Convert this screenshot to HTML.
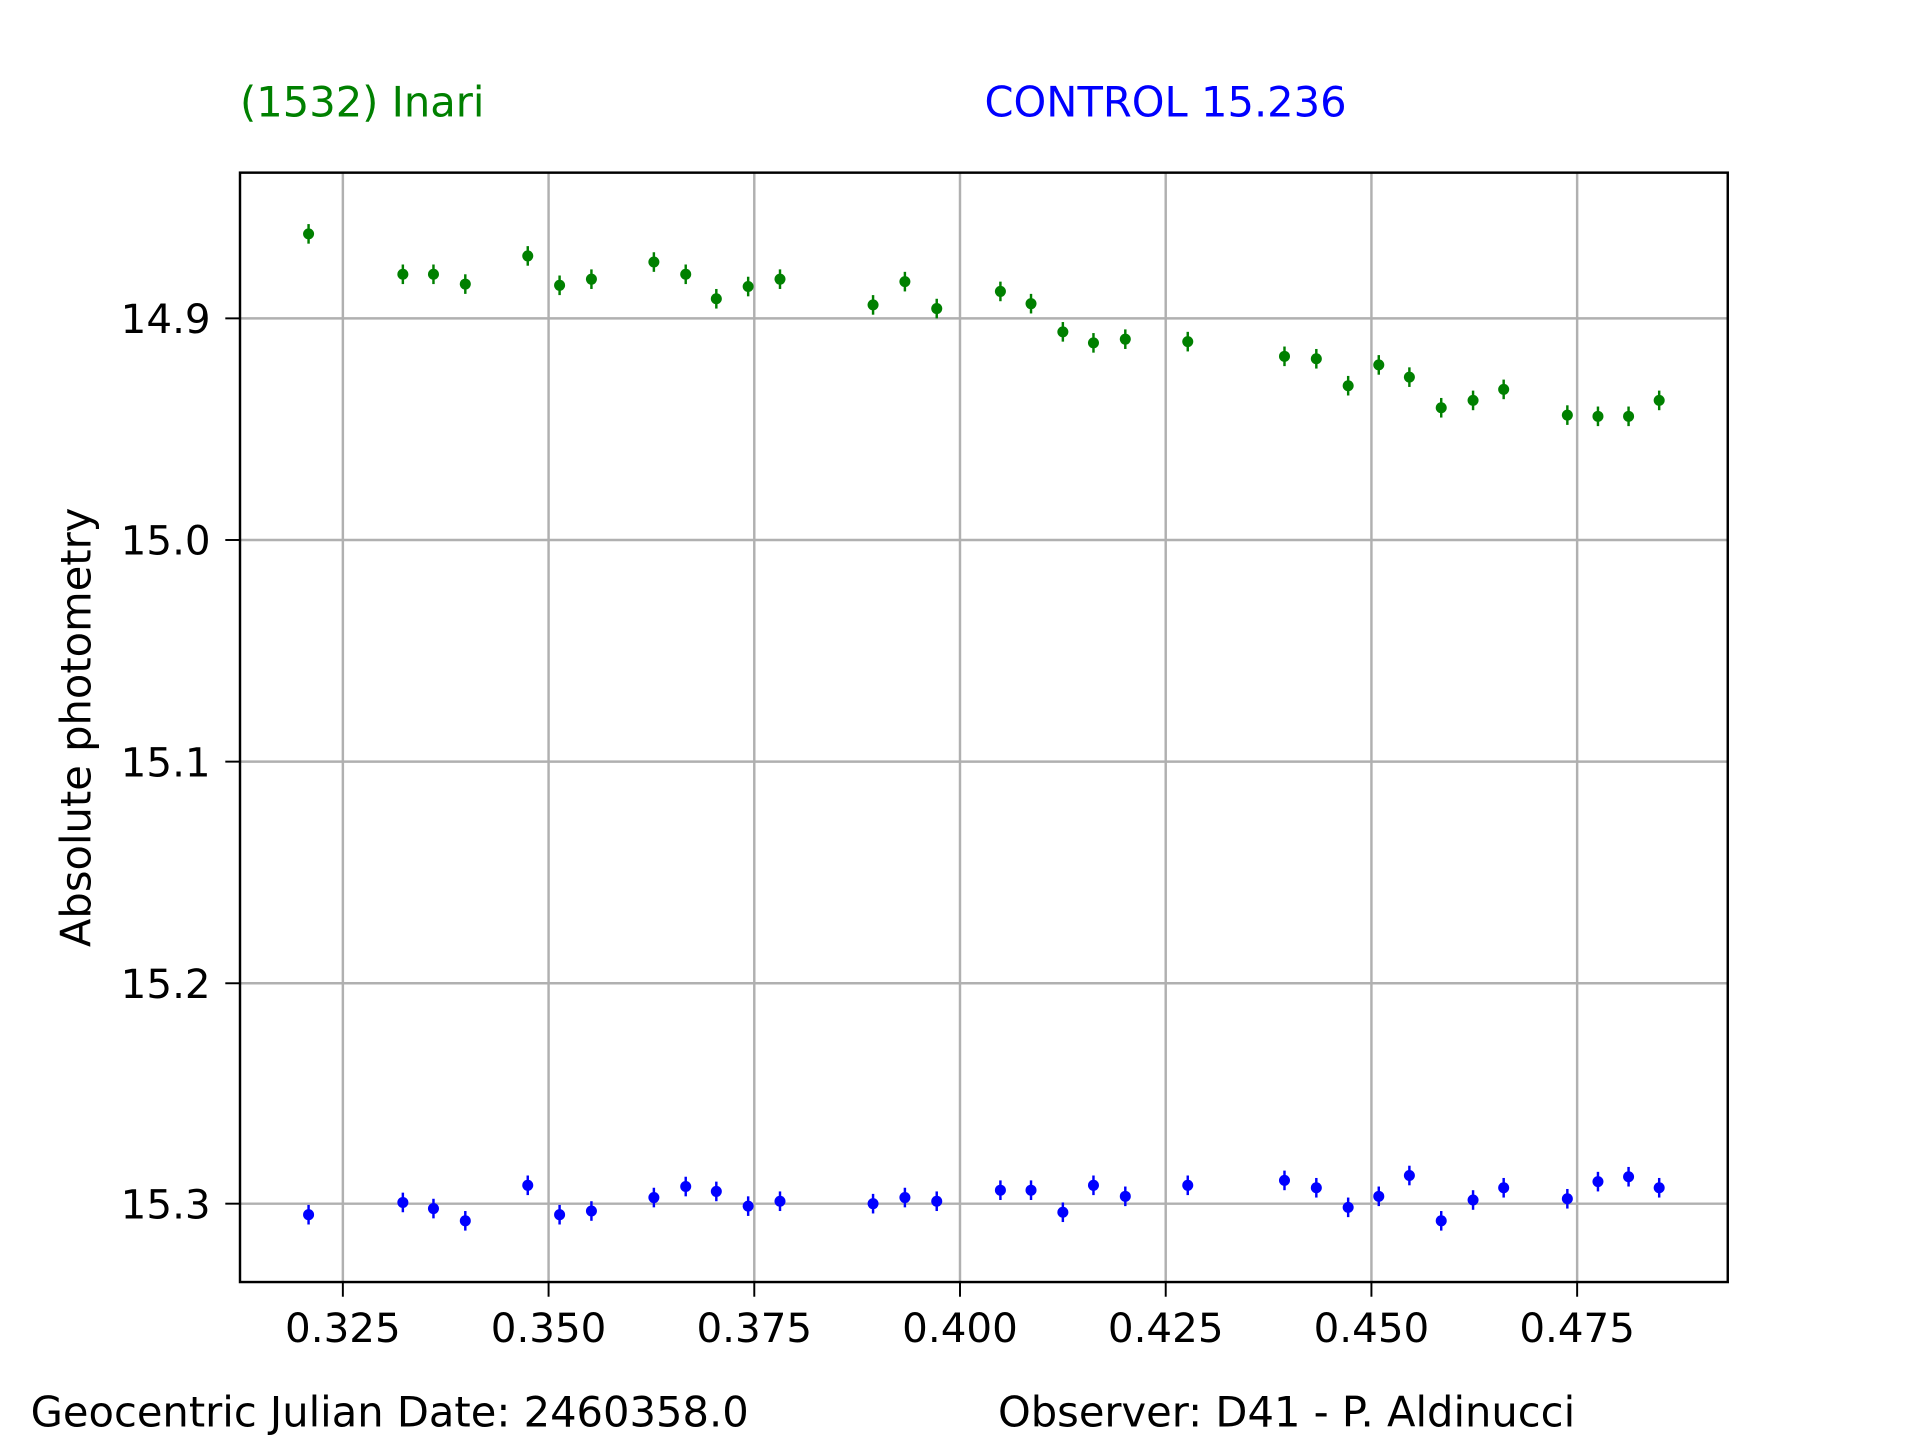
<!DOCTYPE html>
<html><head><meta charset="utf-8"><style>html,body{margin:0;padding:0;background:#fff}</style></head>
<body>
<svg width="1920" height="1440" viewBox="0 0 1568 1176" xmlns="http://www.w3.org/2000/svg" font-family="DejaVu Sans, Liberation Sans, sans-serif">
<defs>
<g id="gm"><line x1="0" y1="-8" x2="0" y2="8" stroke="#008000" stroke-width="2"/><circle r="4.5" fill="#008000"/></g>
<g id="bm"><line x1="0" y1="-8" x2="0" y2="8" stroke="#0000ff" stroke-width="2"/><circle r="4.5" fill="#0000ff"/></g>
</defs>
<rect width="1568" height="1176" fill="#fff"/>
<g stroke="#b0b0b0" stroke-width="2">
<line x1="280" y1="141" x2="280" y2="1047"/><line x1="448" y1="141" x2="448" y2="1047"/>
<line x1="616" y1="141" x2="616" y2="1047"/><line x1="784" y1="141" x2="784" y2="1047"/>
<line x1="952" y1="141" x2="952" y2="1047"/><line x1="1120" y1="141" x2="1120" y2="1047"/>
<line x1="1288" y1="141" x2="1288" y2="1047"/>
<line x1="196" y1="260" x2="1411" y2="260"/><line x1="196" y1="441" x2="1411" y2="441"/>
<line x1="196" y1="622" x2="1411" y2="622"/><line x1="196" y1="803" x2="1411" y2="803"/>
<line x1="196" y1="983" x2="1411" y2="983"/>
</g>
<g stroke="#000" stroke-width="1.6">
<line x1="280" y1="1047" x2="280" y2="1059"/><line x1="448" y1="1047" x2="448" y2="1059"/>
<line x1="616" y1="1047" x2="616" y2="1059"/><line x1="784" y1="1047" x2="784" y2="1059"/>
<line x1="952" y1="1047" x2="952" y2="1059"/><line x1="1120" y1="1047" x2="1120" y2="1059"/>
<line x1="1288" y1="1047" x2="1288" y2="1059"/>
<line x1="184" y1="260" x2="196" y2="260"/><line x1="184" y1="441" x2="196" y2="441"/>
<line x1="184" y1="622" x2="196" y2="622"/><line x1="184" y1="803" x2="196" y2="803"/>
<line x1="184" y1="983" x2="196" y2="983"/>
</g>
<g font-size="33" text-anchor="middle" fill="#000">
<text x="280" y="1096">0.325</text><text x="448" y="1096">0.350</text><text x="616" y="1096">0.375</text>
<text x="784" y="1096">0.400</text><text x="952" y="1096">0.425</text><text x="1120" y="1096">0.450</text>
<text x="1288" y="1096">0.475</text>
</g>
<g font-size="33" text-anchor="end" fill="#000">
<text x="172" y="272">14.9</text><text x="172" y="453">15.0</text><text x="172" y="634">15.1</text>
<text x="172" y="815">15.2</text><text x="172" y="995">15.3</text>
</g>
<text transform="translate(74,594) rotate(-90)" font-size="34" text-anchor="middle">Absolute photometry</text>
<text x="196" y="95" font-size="34" fill="#008000">(1532) Inari</text>
<text x="804" y="95" font-size="34" fill="#0000ff">CONTROL 15.236</text>
<text x="25" y="1165" font-size="34">Geocentric Julian Date: 2460358.0</text>
<text x="815" y="1165" font-size="34">Observer: D41 - P. Aldinucci</text>
<g>
<use href="#gm" x="252" y="191"/><use href="#gm" x="329" y="224"/><use href="#gm" x="354" y="224"/><use href="#gm" x="380" y="232"/><use href="#gm" x="431" y="209"/><use href="#gm" x="457" y="233"/><use href="#gm" x="483" y="228"/><use href="#gm" x="534" y="214"/><use href="#gm" x="560" y="224"/><use href="#gm" x="585" y="244"/><use href="#gm" x="611" y="234"/><use href="#gm" x="637" y="228"/><use href="#gm" x="713" y="249"/><use href="#gm" x="739" y="230"/><use href="#gm" x="765" y="252"/><use href="#gm" x="817" y="238"/><use href="#gm" x="842" y="248"/><use href="#gm" x="868" y="271"/><use href="#gm" x="893" y="280"/><use href="#gm" x="919" y="277"/><use href="#gm" x="970" y="279"/><use href="#gm" x="1049" y="291"/><use href="#gm" x="1075" y="293"/><use href="#gm" x="1101" y="315"/><use href="#gm" x="1126" y="298"/><use href="#gm" x="1151" y="308"/><use href="#gm" x="1177" y="333"/><use href="#gm" x="1203" y="327"/><use href="#gm" x="1228" y="318"/><use href="#gm" x="1280" y="339"/><use href="#gm" x="1305" y="340"/><use href="#gm" x="1330" y="340"/><use href="#gm" x="1355" y="327"/>
<use href="#bm" x="252" y="992"/><use href="#bm" x="329" y="982"/><use href="#bm" x="354" y="987"/><use href="#bm" x="380" y="997"/><use href="#bm" x="431" y="968"/><use href="#bm" x="457" y="992"/><use href="#bm" x="483" y="989"/><use href="#bm" x="534" y="978"/><use href="#bm" x="560" y="969"/><use href="#bm" x="585" y="973"/><use href="#bm" x="611" y="985"/><use href="#bm" x="637" y="981"/><use href="#bm" x="713" y="983"/><use href="#bm" x="739" y="978"/><use href="#bm" x="765" y="981"/><use href="#bm" x="817" y="972"/><use href="#bm" x="842" y="972"/><use href="#bm" x="868" y="990"/><use href="#bm" x="893" y="968"/><use href="#bm" x="919" y="977"/><use href="#bm" x="970" y="968"/><use href="#bm" x="1049" y="964"/><use href="#bm" x="1075" y="970"/><use href="#bm" x="1101" y="986"/><use href="#bm" x="1126" y="977"/><use href="#bm" x="1151" y="960"/><use href="#bm" x="1177" y="997"/><use href="#bm" x="1203" y="980"/><use href="#bm" x="1228" y="970"/><use href="#bm" x="1280" y="979"/><use href="#bm" x="1305" y="965"/><use href="#bm" x="1330" y="961"/><use href="#bm" x="1355" y="970"/>
</g>
<rect x="196" y="141" width="1215" height="906" fill="none" stroke="#000" stroke-width="2"/>
</svg>
</body></html>
